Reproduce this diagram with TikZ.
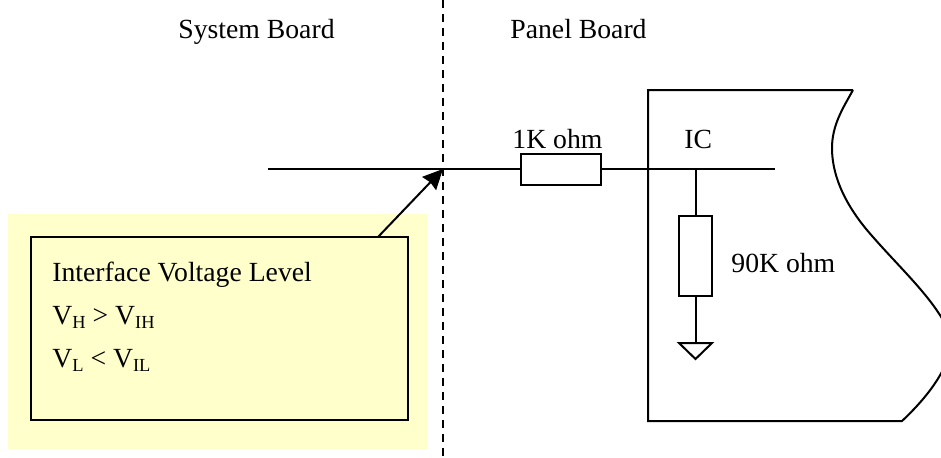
\documentclass[tikz,border=0pt]{standalone}
\usepackage{fontspec}
\setmainfont{Liberation Serif}
\usetikzlibrary{arrows.meta}
\newcommand{\sbs}[1]{\raisebox{-2.2pt}{\fontsize{9.2}{9.2}\selectfont #1}}
\tikzset{
  lbl/.style={anchor=base west,inner sep=0pt,font=\fontsize{13.85}{16}\selectfont},
  res/.style={draw,line width=1pt,fill=white,inner sep=0pt},
  wire/.style={line width=1pt}
}
\definecolor{noteyellow}{RGB}{255,255,204}
\begin{document}
\begin{tikzpicture}[x=0.5pt,y=-0.5pt]
  \useasboundingbox (0,0) rectangle (941,457);
  \clip (0,0) rectangle (941,457);

  \node[fill=noteyellow,inner sep=0pt,minimum width=209.5pt,minimum height=117.5pt] (notebg) at (217.5,331.5) {};
  \node[draw,line width=1pt,inner sep=0pt,minimum width=188.5pt,minimum height=91.5pt] (notebox) at (219.5,328.5) {};

  \node[lbl] (title1) at (178,38) {System Board};
  \node[lbl] (title2) at (510,38) {Panel Board};
  \node[lbl] (rlabel1) at (512,148) {1K ohm};
  \node[lbl] (iclabel) at (684,148) {IC};
  \node[lbl] (rlabel2) at (731,272) {90K ohm};
  \node[lbl] (line1) at (52,281) {Interface Voltage Level};
  \node[lbl] (line2) at (52,324) {V\sbs{H} > V\sbs{IH}};
  \node[lbl] (line3) at (52,367) {V\sbs{L} < V\sbs{IL}};

  \coordinate (top) at (443,0);
  \coordinate (bottom) at (443,457);
  \coordinate (wirestart) at (268,169);
  \coordinate (wireend) at (775,169);
  \coordinate (tap) at (695.5,169);
  \coordinate (cross) at (443,169);
  \coordinate (gnd) at (695.5,343);
  \coordinate (arrowstart) at (378,237);

  \draw[line width=0.8pt,dash pattern=on 4pt off 3pt] (top) -- (bottom);

  % outline of the IC
  \draw[line width=1pt] (853,90) -- (648,90) -- (648,421) -- (902,421)
    .. controls (935,390) and (958,355) .. (948,330)
    .. controls (935,300) and (900,268) .. (873,237)
    .. controls (855,217) and (832,185) .. (832,148)
    .. controls (832,125) and (843,108) .. (853,90);

  \node[res,minimum width=40pt,minimum height=15.5pt] (r1) at (561,169) {};
  \node[res,minimum width=16.5pt,minimum height=40pt] (r2) at (695.5,256) {};

  \draw[wire] (wirestart) -- (r1);
  \draw[wire] (r1) -- (wireend);
  \draw[wire] (tap) -- (r2);
  \draw[wire] (r2) -- (gnd);
  \draw[line width=1pt] (679,343) -- (712,343) -- (695.5,359) -- cycle;

  \draw[line width=1pt,-{Stealth[length=10pt,width=9.5pt,inset=0.8pt]}] (arrowstart) -- (cross);
\end{tikzpicture}
\end{document}
